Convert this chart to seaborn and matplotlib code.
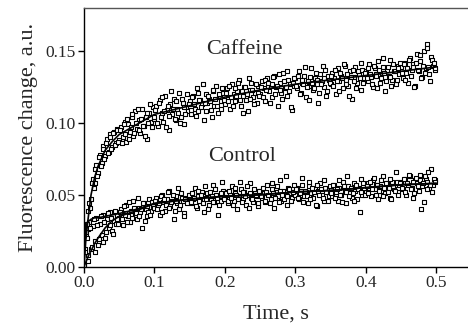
import numpy as np
import pandas as pd
import seaborn as sns
import matplotlib.pyplot as plt

# sampling times of the two interleaved recordings (s)
time_a = np.arange(200) * 0.0025
time_b = time_a + 0.00125

# caffeine, recording a / b (fluorescence change, a.u.)
caffeine_a = [
    0.002, 0.021, 0.026, 0.044, 0.047, 0.061, 0.058, 0.071, 0.065, 0.078, 0.072, 0.084, 0.077, 0.089, 0.080, 0.092, 0.083, 0.094, 0.086, 0.096,
    0.088, 0.097, 0.090, 0.101, 0.087, 0.099, 0.094, 0.104, 0.091, 0.108, 0.096, 0.102, 0.093, 0.110, 0.098, 0.104, 0.089, 0.107, 0.101, 0.111,
    0.103, 0.112, 0.098, 0.116, 0.107, 0.101, 0.119, 0.109, 0.095, 0.113, 0.106, 0.117, 0.102, 0.110, 0.121, 0.104, 0.114, 0.099, 0.111, 0.108,
    0.115, 0.106, 0.119, 0.110, 0.124, 0.108, 0.116, 0.113, 0.102, 0.120, 0.114, 0.117, 0.109, 0.122, 0.112, 0.126, 0.107, 0.118, 0.115, 0.121,
    0.113, 0.124, 0.117, 0.110, 0.127, 0.120, 0.115, 0.122, 0.130, 0.112, 0.119, 0.125, 0.116, 0.108, 0.123, 0.128, 0.118, 0.121, 0.114, 0.126,
    0.120, 0.129, 0.124, 0.115, 0.131, 0.122, 0.126, 0.118, 0.133, 0.125, 0.112, 0.128, 0.121, 0.135, 0.124, 0.119, 0.130, 0.127, 0.109, 0.126,
    0.131, 0.124, 0.136, 0.121, 0.128, 0.133, 0.118, 0.129, 0.126, 0.138, 0.123, 0.131, 0.127, 0.114, 0.134, 0.129, 0.125, 0.137, 0.122, 0.130,
    0.127, 0.135, 0.131, 0.120, 0.138, 0.129, 0.133, 0.124, 0.140, 0.130, 0.126, 0.136, 0.117, 0.132, 0.139, 0.128, 0.134, 0.123, 0.137, 0.131,
    0.136, 0.129, 0.141, 0.132, 0.125, 0.138, 0.134, 0.143, 0.128, 0.135, 0.139, 0.122, 0.137, 0.133, 0.144, 0.130, 0.136, 0.127, 0.140, 0.134,
    0.139, 0.131, 0.142, 0.135, 0.128, 0.145, 0.137, 0.141, 0.126, 0.148, 0.136, 0.143, 0.132, 0.150, 0.138, 0.155, 0.134, 0.146, 0.140, 0.137,
]
caffeine_b = [
    0.012, 0.020, 0.039, 0.041, 0.058, 0.055, 0.068, 0.063, 0.076, 0.070, 0.082, 0.075, 0.086, 0.079, 0.090, 0.082, 0.093, 0.085, 0.095, 0.087,
    0.095, 0.086, 0.099, 0.092, 0.103, 0.089, 0.097, 0.106, 0.093, 0.100, 0.110, 0.095, 0.103, 0.098, 0.091, 0.107, 0.100, 0.113, 0.097, 0.104,
    0.109, 0.100, 0.114, 0.104, 0.118, 0.108, 0.097, 0.112, 0.105, 0.122, 0.110, 0.103, 0.115, 0.107, 0.100, 0.117, 0.111, 0.106, 0.120, 0.113,
    0.109, 0.118, 0.113, 0.105, 0.121, 0.116, 0.111, 0.127, 0.114, 0.108, 0.119, 0.115, 0.104, 0.123, 0.117, 0.112, 0.120, 0.110, 0.124, 0.116,
    0.121, 0.115, 0.126, 0.118, 0.112, 0.124, 0.119, 0.128, 0.116, 0.122, 0.107, 0.125, 0.120, 0.131, 0.117, 0.123, 0.113, 0.127, 0.121, 0.119,
    0.125, 0.118, 0.130, 0.123, 0.128, 0.114, 0.127, 0.132, 0.120, 0.126, 0.134, 0.123, 0.117, 0.129, 0.125, 0.136, 0.122, 0.111, 0.128, 0.131,
    0.126, 0.133, 0.120, 0.130, 0.127, 0.139, 0.125, 0.116, 0.132, 0.128, 0.124, 0.135, 0.130, 0.121, 0.127, 0.140, 0.131, 0.119, 0.133, 0.128,
    0.133, 0.126, 0.137, 0.129, 0.122, 0.135, 0.131, 0.141, 0.127, 0.134, 0.119, 0.132, 0.137, 0.129, 0.124, 0.136, 0.131, 0.142, 0.128, 0.135,
    0.131, 0.138, 0.134, 0.127, 0.140, 0.133, 0.124, 0.137, 0.131, 0.145, 0.135, 0.129, 0.139, 0.132, 0.126, 0.141, 0.136, 0.130, 0.138, 0.142,
    0.135, 0.141, 0.130, 0.138, 0.144, 0.133, 0.139, 0.125, 0.142, 0.137, 0.147, 0.131, 0.140, 0.135, 0.152, 0.139, 0.129, 0.144, 0.142, 0.138,
]

# control, recording a / b
control_a = [
    0.001, 0.024, 0.008, 0.031, 0.012, 0.028, 0.018, 0.034, 0.015, 0.030, 0.022, 0.036, 0.020, 0.033, 0.027, 0.038, 0.025, 0.032, 0.030, 0.036,
    0.034, 0.040, 0.029, 0.037, 0.043, 0.035, 0.031, 0.039, 0.046, 0.036, 0.033, 0.041, 0.038, 0.027, 0.044, 0.040, 0.035, 0.047, 0.039, 0.042,
    0.041, 0.048, 0.043, 0.036, 0.050, 0.045, 0.039, 0.047, 0.053, 0.042, 0.046, 0.033, 0.049, 0.044, 0.040, 0.051, 0.046, 0.037, 0.048, 0.045,
    0.050, 0.044, 0.047, 0.055, 0.041, 0.049, 0.046, 0.052, 0.038, 0.048, 0.051, 0.043, 0.047, 0.057, 0.045, 0.050, 0.036, 0.049, 0.046, 0.053,
    0.047, 0.052, 0.044, 0.050, 0.056, 0.046, 0.051, 0.040, 0.049, 0.054, 0.047, 0.052, 0.043, 0.050, 0.058, 0.048, 0.045, 0.053, 0.049, 0.042,
    0.053, 0.048, 0.051, 0.045, 0.057, 0.050, 0.047, 0.054, 0.041, 0.052, 0.049, 0.060, 0.046, 0.053, 0.050, 0.043, 0.055, 0.051, 0.048, 0.052,
    0.050, 0.055, 0.047, 0.053, 0.062, 0.049, 0.052, 0.044, 0.056, 0.051, 0.048, 0.054, 0.042, 0.053, 0.058, 0.050, 0.046, 0.055, 0.052, 0.049,
    0.054, 0.049, 0.057, 0.052, 0.046, 0.055, 0.050, 0.059, 0.053, 0.044, 0.056, 0.051, 0.048, 0.058, 0.053, 0.047, 0.055, 0.061, 0.050, 0.054,
    0.052, 0.058, 0.055, 0.049, 0.060, 0.054, 0.057, 0.047, 0.056, 0.053, 0.063, 0.051, 0.058, 0.055, 0.048, 0.059, 0.054, 0.066, 0.052, 0.057,
    0.059, 0.054, 0.061, 0.050, 0.057, 0.063, 0.055, 0.048, 0.060, 0.058, 0.053, 0.064, 0.056, 0.045, 0.061, 0.059, 0.055, 0.068, 0.057, 0.060,
]
control_b = [
    0.010, 0.030, 0.004, 0.027, 0.014, 0.033, 0.010, 0.029, 0.019, 0.035, 0.017, 0.031, 0.024, 0.037, 0.029, 0.034, 0.023, 0.039, 0.033, 0.030,
    0.038, 0.033, 0.042, 0.036, 0.031, 0.045, 0.039, 0.034, 0.041, 0.037, 0.048, 0.035, 0.040, 0.044, 0.032, 0.042, 0.038, 0.036, 0.045, 0.041,
    0.046, 0.040, 0.044, 0.049, 0.038, 0.047, 0.043, 0.052, 0.041, 0.045, 0.050, 0.039, 0.046, 0.055, 0.043, 0.048, 0.035, 0.047, 0.044, 0.050,
    0.045, 0.051, 0.048, 0.042, 0.053, 0.046, 0.050, 0.044, 0.056, 0.047, 0.040, 0.052, 0.049, 0.045, 0.054, 0.048, 0.043, 0.051, 0.059, 0.047,
    0.051, 0.046, 0.053, 0.048, 0.043, 0.055, 0.050, 0.047, 0.059, 0.045, 0.052, 0.049, 0.056, 0.041, 0.051, 0.047, 0.054, 0.050, 0.044, 0.053,
    0.049, 0.055, 0.046, 0.052, 0.050, 0.044, 0.058, 0.051, 0.048, 0.056, 0.045, 0.053, 0.050, 0.047, 0.063, 0.049, 0.054, 0.046, 0.052, 0.057,
    0.054, 0.048, 0.051, 0.057, 0.045, 0.053, 0.049, 0.059, 0.047, 0.055, 0.052, 0.043, 0.057, 0.050, 0.054, 0.048, 0.060, 0.052, 0.046, 0.056,
    0.051, 0.057, 0.048, 0.054, 0.060, 0.050, 0.045, 0.056, 0.052, 0.063, 0.049, 0.055, 0.051, 0.046, 0.057, 0.054, 0.038, 0.052, 0.058, 0.050,
    0.056, 0.051, 0.059, 0.054, 0.062, 0.050, 0.057, 0.053, 0.060, 0.049, 0.055, 0.058, 0.052, 0.061, 0.047, 0.056, 0.053, 0.059, 0.050, 0.058,
    0.055, 0.061, 0.052, 0.058, 0.064, 0.054, 0.059, 0.051, 0.062, 0.056, 0.060, 0.040, 0.058, 0.063, 0.054, 0.066, 0.057, 0.052, 0.061, 0.059,
]

# fitted curves
fit_t = [0, 0.0025, 0.005, 0.0075, 0.01, 0.015, 0.02, 0.03, 0.04, 0.05, 0.075, 0.1, 0.15, 0.2, 0.25, 0.3, 0.35, 0.4, 0.45, 0.5]
fit_caffeine = [0, 0.018, 0.030, 0.040, 0.050, 0.062, 0.070, 0.081, 0.087, 0.092, 0.099, 0.106, 0.112, 0.118, 0.123, 0.127, 0.130, 0.133, 0.136, 0.139]
fit_control_fast = [0.004, 0.028, 0.031, 0.032, 0.033, 0.034, 0.034, 0.035, 0.036, 0.037, 0.040, 0.044, 0.047, 0.049, 0.050, 0.052, 0.053, 0.055, 0.057, 0.058]
fit_control_slow = [0, 0.003, 0.006, 0.009, 0.011, 0.016, 0.020, 0.027, 0.032, 0.035, 0.039, 0.044, 0.047, 0.049, 0.050, 0.052, 0.053, 0.055, 0.057, 0.058]

sns.set_style("ticks")
plt.rcParams["font.family"] = ["Liberation Serif", "DejaVu Serif"]

fig = plt.figure(figsize=(4.68, 3.35), dpi=100)
ax = fig.add_axes([0.1795, 0.204, 0.8205, 0.772])

traces = pd.DataFrame({
    "t": np.concatenate([time_a, time_b, time_a, time_b]),
    "y": caffeine_a + caffeine_b + control_a + control_b,
})
sns.scatterplot(data=traces, x="t", y="y", marker="s", s=6,
                facecolor="white", edgecolor="black", linewidth=0.8, ax=ax)

for curve in [fit_caffeine, fit_control_fast, fit_control_slow]:
    sns.lineplot(x=fit_t, y=curve, color="black", linewidth=1.2, ax=ax)

ax.text(0.227, 0.151, "Caffeine", fontsize=16, ha="center", va="center")
ax.text(0.224, 0.0765, "Control", fontsize=16, ha="center", va="center")

ax.set_xlim(0, 0.545)
ax.set_ylim(0, 0.18)
ax.set_xticks([0, 0.1, 0.2, 0.3, 0.4, 0.5])
ax.set_xticklabels(["0.0", "0.1", "0.2", "0.3", "0.4", "0.5"])
ax.set_yticks([0, 0.05, 0.10, 0.15])
ax.set_yticklabels(["0.00", "0.05", "0.10", "0.15"])
ax.tick_params(labelsize=12.5, length=4, width=1, color="black", pad=2)
ax.set_xlabel("Time, s", fontsize=16, labelpad=10)
ax.set_ylabel("Fluorescence change, a.u.", fontsize=16, labelpad=5)
ax.spines["right"].set_visible(False)
for s in ["left", "bottom", "top"]:
    ax.spines[s].set_color("black")
    ax.spines[s].set_linewidth(1)
ax.spines["top"].set_color("#555555")

fig.savefig("out.png", dpi=100)
